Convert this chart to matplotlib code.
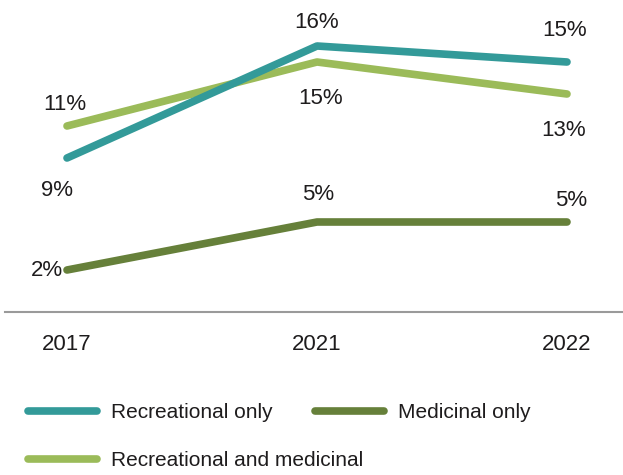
import numpy as np
import matplotlib.pyplot as plt

plt.rcParams['font.family'] = ['Liberation Sans', 'DejaVu Sans']

years = ['2017', '2021', '2022']
rec_only = [9, 16, 15]
rec_med = [11, 15, 13]
med_only = [2, 5, 5]

c_rec = '#339a99'
c_recmed = '#9bbb59'
c_med = '#66803a'
txt = '#1e1c1d'

fig = plt.figure(figsize=(6.23, 4.75), dpi=100)
# axes run from x=5px to the right edge, baseline at y=312px
ax = fig.add_axes([5/623, (475-312)/475, 618/623, 312/475])

x = np.arange(len(years))
lw = 5.5
kw = dict(lw=lw, solid_capstyle='round', solid_joinstyle='round')
l_rec, = ax.plot(x, rec_only, color=c_rec, zorder=3, **kw)
l_recmed, = ax.plot(x, rec_med, color=c_recmed, zorder=2, **kw)
l_med, = ax.plot(x, med_only, color=c_med, zorder=2, **kw)

# label offsets in pixels (dx, dy), dy positive = up
offs_rec = [(-10, -32), (0, 24), (-2, 31)]
offs_recmed = [(-2, 22), (4, -37), (-3, -36)]
offs_med = [(-20, 0), (1, 28), (4, 21)]

def label(vals, offs):
    for xi, v, (dx, dy) in zip(x, vals, offs):
        ax.annotate(f'{v}%', (xi, v), xytext=(dx, dy), textcoords='offset pixels',
                    ha='center', va='center', fontsize=16, color=txt)

label(rec_only, offs_rec)
label(rec_med, offs_recmed)
label(med_only, offs_med)

ax.set_xlim((5-67)/250, (623-67)/250)
ax.set_ylim(-10/16, 302/16)
ax.set_xticks(x, years)
ax.set_yticks([])
for s in ['top', 'left', 'right']:
    ax.spines[s].set_visible(False)
ax.spines['bottom'].set_color('#9a9a9a')
ax.spines['bottom'].set_linewidth(1.5)
ax.tick_params(axis='x', length=0, pad=16, labelsize=16, labelcolor=txt)

# legend entries placed one by one
entries = [(l_rec, 'Recreational only', 28, 413),
           (l_med, 'Medicinal only', 315, 413),
           (l_recmed, 'Recreational and medicinal', 28, 461)]
for handle, text, px, py in entries:
    leg = fig.legend([handle], [text], frameon=False, loc='center left',
                     bbox_to_anchor=(px/623, 1 - py/475), fontsize=15,
                     handlelength=3.3, handletextpad=0.7,
                     borderpad=0, borderaxespad=0, labelcolor=txt)

fig.savefig('out.png', dpi=100)
